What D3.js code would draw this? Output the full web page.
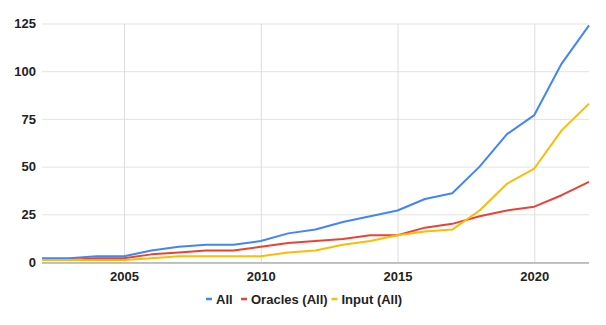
<!DOCTYPE html>
<html>
<head>
<meta charset="utf-8">
<script src="https://cdn.jsdelivr.net/npm/d3@7"></script>
<style>
  body { margin: 0; background: #fff; }
  svg { display: block; font-family: 'Liberation Sans', Arial, sans-serif; }
  .tick text { font-size: 13px; font-weight: bold; fill: #222; }
  .legend text { font-size: 13px; font-weight: bold; fill: #222; }
</style>
</head>
<body>
<div id="chart"></div>
<script>
const years = d3.range(2002, 2023);
const allVals = [2, 2, 3, 3, 6, 8, 9, 9, 11, 15, 17, 21, 24, 27, 33, 36, 50, 67, 77, 104, 124];
const oracleVals = [1, 1, 2, 2, 4, 5, 6, 6, 8, 10, 11, 12, 14, 14, 18, 20, 24, 27, 29, 35, 42];
const inputVals = [1, 1, 1, 1, 2, 3, 3, 3, 3, 5, 6, 9, 11, 14, 16, 17, 27, 41, 49, 69, 83];
const xTicks = [2005, 2010, 2015, 2020];
const yTicks = [0, 25, 50, 75, 100, 125];
const seriesNames = ['All', 'Oracles (All)', 'Input (All)'];
const seriesColors = ['#4285f4', '#ea4335', '#fbbc04'];

const series = [allVals, oracleVals, inputVals].map((vals, i) => ({
  name: seriesNames[i],
  color: seriesColors[i],
  values: vals.map((v, j) => ({ year: years[j], value: v }))
}));

const W = 606, H = 325;
const margin = { top: 23.5, right: 17, bottom: 63, left: 42 };
const width = W - margin.left - margin.right;
const height = H - margin.top - margin.bottom;

const svg = d3.select('#chart').append('svg')
  .attr('width', W)
  .attr('height', H);
const g = svg.append('g')
  .attr('transform', 'translate(' + margin.left + ',' + margin.top + ')');

const x = d3.scaleLinear().domain([2002, 2022]).range([0, width]);
const y = d3.scaleLinear().domain([0, 125]).range([height, 0]);

// horizontal grid
g.append('g')
  .call(d3.axisLeft(y).tickValues(yTicks).tickSize(-width).tickFormat(''))
  .call(s => s.select('.domain').remove())
  .call(s => s.selectAll('line').attr('stroke', '#e3e3e3').attr('stroke-width', 1));

// vertical grid
g.append('g')
  .attr('transform', 'translate(0,' + height + ')')
  .call(d3.axisBottom(x).tickValues(xTicks).tickSize(-height).tickFormat(''))
  .call(s => s.select('.domain').remove())
  .call(s => s.selectAll('line').attr('stroke', '#dcdcdc').attr('stroke-width', 1));

// y labels
g.append('g')
  .call(d3.axisLeft(y).tickValues(yTicks).tickSize(0).tickPadding(6))
  .call(s => s.select('.domain').remove());

// x labels
g.append('g')
  .attr('transform', 'translate(0,' + height + ')')
  .call(d3.axisBottom(x).tickValues(xTicks).tickSize(0).tickPadding(10).tickFormat(d3.format('d')))
  .call(s => s.select('.domain').remove());

const line = d3.line()
  .x(d => x(d.year))
  .y(d => y(d.value));

g.selectAll('.series')
  .data(series)
  .enter()
  .append('path')
  .attr('class', 'series')
  .attr('fill', 'none')
  .attr('stroke', d => d.color)
  .attr('stroke-width', 2)
  .attr('stroke-linejoin', 'round')
  .attr('d', d => line(d.values));

// baseline
g.append('line')
  .attr('x1', 0)
  .attr('x2', width)
  .attr('y1', y(0) + 1)
  .attr('y2', y(0) + 1)
  .attr('stroke', '#b0b0b0')
  .attr('stroke-width', 1.5);

// legend
const legend = svg.append('g').attr('class', 'legend')
  .attr('transform', 'translate(206,299)');
const offsets = [0, 35, 125.5];
series.forEach((s, i) => {
  const item = legend.append('g').attr('transform', 'translate(' + offsets[i] + ',0)');
  item.append('line')
    .attr('x1', 0).attr('x2', 6)
    .attr('y1', 0).attr('y2', 0)
    .attr('stroke', s.color)
    .attr('stroke-width', 2.5);
  item.append('text')
    .attr('x', 10)
    .attr('dy', '0.35em')
    .text(s.name);
});
</script>
</body>
</html>
